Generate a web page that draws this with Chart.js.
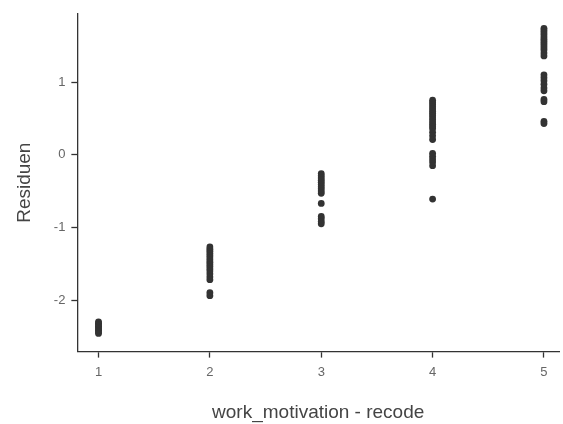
<!DOCTYPE html>
<html lang="de">
<head>
<meta charset="UTF-8">
<title>Residuen</title>
<script src="https://cdn.jsdelivr.net/npm/chart.js"></script>
<style>
  html, body { margin: 0; padding: 0; background: #fff; }
  #wrap { width: 563px; height: 424px; }
</style>
</head>
<body>
<div id="wrap"><canvas id="chart"></canvas></div>
<script>
// Residuen je Stufe von work_motivation
const level1 = [-2.30, -2.32, -2.34, -2.36, -2.38, -2.40, -2.42, -2.44, -2.46];
const level2 = [-1.27, -1.30, -1.33, -1.36, -1.39, -1.42, -1.45, -1.48, -1.51, -1.54, -1.57, -1.60, -1.64, -1.68, -1.72, -1.90, -1.94];
const level3 = [-0.26, -0.29, -0.32, -0.35, -0.38, -0.41, -0.44, -0.47, -0.50, -0.53, -0.67, -0.85, -0.88, -0.92, -0.95];
const level4 = [0.75, 0.72, 0.69, 0.66, 0.63, 0.60, 0.57, 0.54, 0.51, 0.48, 0.45, 0.42, 0.39, 0.36, 0.31, 0.26, 0.21, 0.02, -0.02, -0.06, -0.10, -0.15, -0.61];
const level5 = [1.74, 1.71, 1.68, 1.65, 1.62, 1.59, 1.56, 1.53, 1.50, 1.47, 1.44, 1.40, 1.36, 1.10, 1.06, 1.02, 0.97, 0.92, 0.88, 0.76, 0.73, 0.46, 0.43];
const levels = [1, 2, 3, 4, 5];
const yTicks = [-2, -1, 0, 1];

const groups = [level1, level2, level3, level4, level5];
const points = [];
groups.forEach((vals, i) => {
  vals.forEach(v => points.push({ x: levels[i], y: v }));
});

new Chart(document.getElementById('chart'), {
  type: 'scatter',
  data: {
    datasets: [{
      data: points,
      backgroundColor: '#333333',
      borderColor: '#333333',
      pointRadius: 3.4,
      pointBorderWidth: 0
    }]
  },
  options: {
    responsive: true,
    maintainAspectRatio: false,
    animation: false,
    layout: { padding: { top: 12, right: 0, left: 9, bottom: 0 } },
    plugins: { legend: { display: false }, tooltip: { enabled: false } },
    scales: {
      x: {
        type: 'linear',
        min: 0.81,
        max: 5.135,
        afterBuildTicks: s => { s.ticks = levels.map(v => ({ value: v })); },
        border: { color: '#333', width: 1.3 },
        grid: { drawOnChartArea: false, drawTicks: true, tickLength: 6, tickColor: '#333', tickWidth: 1.3 },
        ticks: { color: '#666', font: { family: 'Liberation Sans', size: 13 }, padding: 7 },
        title: { display: true, text: 'work_motivation - recode', color: '#444', font: { family: 'Liberation Sans', size: 19 }, padding: { top: 14, bottom: 0 } }
      },
      y: {
        type: 'linear',
        min: -2.71,
        max: 1.94,
        afterBuildTicks: s => { s.ticks = yTicks.map(v => ({ value: v })); },
        border: { color: '#333', width: 1.3 },
        grid: { drawOnChartArea: false, drawTicks: true, tickLength: 6, tickColor: '#333', tickWidth: 1.3 },
        ticks: { color: '#666', font: { family: 'Liberation Sans', size: 13 }, padding: 6 },
        title: { display: true, text: 'Residuen', color: '#444', font: { family: 'Liberation Sans', size: 19 }, padding: { bottom: 12 } }
      }
    }
  }
});
</script>
</body>
</html>
